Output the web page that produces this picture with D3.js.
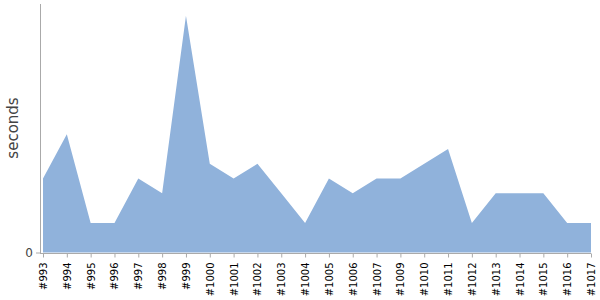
<!DOCTYPE html>
<html>
<head>
<meta charset="utf-8">
<script src="https://cdn.jsdelivr.net/npm/d3@7"></script>
<style>
  body { margin: 0; background: #fff; }
  text { font-family: "DejaVu Sans", Verdana, sans-serif; }
</style>
</head>
<body>
<svg id="chart" width="600" height="300"></svg>
<script>
const builds = ["#993", "#994", "#995", "#996", "#997", "#998", "#999", "#1000", "#1001", "#1002",
  "#1003", "#1004", "#1005", "#1006", "#1007", "#1009", "#1010", "#1011", "#1012", "#1013",
  "#1014", "#1015", "#1016", "#1017"];
const durations = [5, 8, 2, 2, 5, 4, 16, 6, 5, 6, 4, 2, 5, 4, 5, 5, 6, 7, 2, 4, 4, 4, 2, 2];
const yTicks = [0];

const svg = d3.select("#chart");
const margin = { left: 40, right: 9, top: 4, bottom: 47 };
const width = 600 - margin.left - margin.right;
const height = 300 - margin.top - margin.bottom;

const g = svg.append("g").attr("transform", `translate(${margin.left},${margin.top})`);

const x = d3.scalePoint().domain(builds).range([3, width]);
const y = d3.scaleLinear().domain([0, d3.max(durations) * 1.05]).range([height - 0.5, 0]);

const rows = builds.map((b, i) => ({ build: b, value: durations[i] }));

// Area
g.append("path")
  .datum(rows)
  .attr("fill", "#90b2db")
  .attr("d", d3.area()
    .x(d => x(d.build))
    .y0(y(0))
    .y1(d => y(d.value)));

// X axis
const xAxis = g.append("g")
  .attr("transform", `translate(0,${height + 0.5})`)
  .call(d3.axisBottom(x).tickSizeOuter(0).tickSize(4).tickPadding(6));
xAxis.select(".domain").attr("stroke", "#aaa").attr("d", `M0,0H${width}`);
xAxis.selectAll(".tick line").attr("stroke", "#aaa");
xAxis.selectAll("text")
  .attr("transform", "rotate(-90)")
  .attr("text-anchor", "end")
  .attr("x", -9)
  .attr("y", 0)
  .attr("dy", "0.35em")
  .attr("font-size", 10)
  .attr("font-family", "'DejaVu Sans', Verdana, sans-serif")
  .attr("fill", "#000");

// Y axis
const yAxis = g.append("g")
  .call(d3.axisLeft(y).tickValues(yTicks).tickSize(4).tickSizeOuter(0).tickPadding(3));
yAxis.select(".domain").attr("stroke", "#aaa").attr("d", `M0.5,0V${height + 0.5}`);
yAxis.selectAll(".tick line").attr("stroke", "#aaa");
yAxis.selectAll("text")
  .attr("font-size", 12)
  .attr("font-family", "'DejaVu Sans', Verdana, sans-serif")
  .attr("fill", "#444");

// Y label
svg.append("text")
  .attr("transform", "translate(18,128) rotate(-90)")
  .attr("text-anchor", "middle")
  .attr("font-size", 15)
  .attr("fill", "#444")
  .text("seconds");
</script>
</body>
</html>
